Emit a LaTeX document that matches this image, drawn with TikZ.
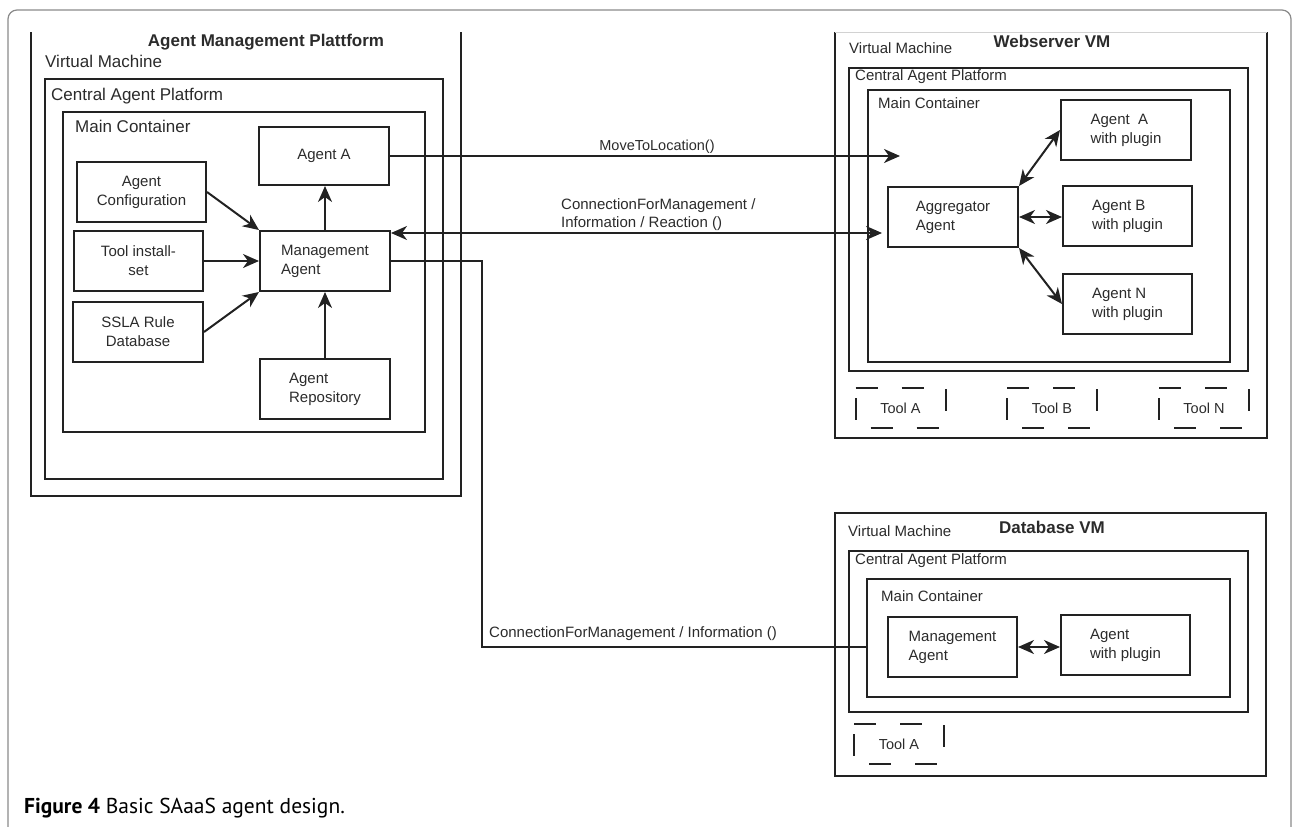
\documentclass[tikz,border=0pt]{standalone}
\usepackage{fontspec}
\setmainfont{Liberation Sans}
\newfontfamily\capfont{PT Sans}
\usetikzlibrary{arrows.meta,calc}
\definecolor{lc}{HTML}{222222}
\definecolor{tc}{HTML}{2B2B2B}
\definecolor{fc}{HTML}{8A8A8A}
\newcommand{\tooldashes}[1]{%
  \draw[tooldash] ($(#1)+(-45,-20)$) -- ++(22,0) ($(#1)+(1,-20)$) -- ++(22,0)
    ($(#1)+(45,-19)$) -- ++(0,22) ($(#1)+(-30,20)$) -- ++(22,0)
    ($(#1)+(16,20)$) -- ++(22,0) ($(#1)+(-45,-10)$) -- ++(0,22);}
\begin{document}
\begin{tikzpicture}[x=1pt,y=-1pt,
  box/.style={draw=lc, line width=2pt, inner sep=0pt, text=tc, font=\fontsize{15}{19}\selectfont},
  cbox/.style={draw=lc, line width=2pt, inner sep=0pt},
  lbl/.style={anchor=west, inner sep=0pt, text=tc, font=\fontsize{15}{18}\selectfont},
  lblL/.style={anchor=west, inner sep=0pt, text=tc, font=\fontsize{17}{20}\selectfont},
  ttl/.style={inner sep=0pt, text=tc, font=\bfseries\fontsize{17}{20}\selectfont},
  tiptext/.style={inner sep=0pt, text=tc, font=\fontsize{14.5}{18}\selectfont},
  arr/.style={draw=lc, line width=2pt, -{Stealth[length=16pt,width=14pt,inset=5pt]}},
  darr/.style={draw=lc, line width=2pt, {Stealth[length=16pt,width=14pt,inset=5pt]}-{Stealth[length=16pt,width=14pt,inset=5pt]}},
  conn/.style={draw=lc, line width=2pt},
  tooldash/.style={draw=lc, line width=2pt}
]
\useasboundingbox (0,0) rectangle (1294,827);
% page frame
\draw[fc, line width=1.2pt, rounded corners=9pt] (8,827) -- (8,10) -- (1291,10) -- (1291,827);

% ===== Left: Agent Management Plattform =====
\draw[conn] (31,32) -- (31,496) -- (461,496) -- (461,32);
\node[ttl] (lttl) at (266,42) {Agent Management Plattform};
\node[lblL] (lvm) at (45,61) {Virtual Machine};
\node[cbox, minimum width=398, minimum height=400] (lcap) at (244,279) {};
\node[lblL] (lcapl) at (51,96) {Central Agent Platform};
\node[cbox, minimum width=362, minimum height=320] (lmc) at (244,272) {};
\node[lblL] (lmcl) at (75,126) {Main Container};

\node[box, minimum width=130, minimum height=58] (aA) at (324,156) {Agent A};
\node[box, minimum width=129, minimum height=60, align=center] (ac) at (141.5,192) {Agent\\Configuration};
\node[box, minimum width=129, minimum height=60, align=center] (ti) at (138.5,261) {Tool install-\\set};
\node[box, minimum width=130, minimum height=60, align=center] (ss) at (138,332) {SSLA Rule\\Database};
\node[box, minimum width=130, minimum height=60, align=left] (ma) at (325,261) {Management\\Agent};
\node[box, minimum width=130, minimum height=60, align=left] (ar) at (325,389) {Agent\\Repository};

\draw[arr] (ac.east) -- (ma.north west);
\draw[arr] (ti.east) -- (ti.east -| ma.west);
\draw[arr] (ss.east) -- (ma.south west);
\draw[arr] (ar.north) -- (ar.north |- ma.south);
\draw[arr] (ma.north) -- (ma.north |- aA.south);

% ===== Webserver VM =====
\draw[conn] (835,32) -- (835,438) -- (1267,438) -- (1267,32);
\draw[gray!35, line width=0.8pt] (835,32) -- (1267,32);
\node[ttl] (wttl) at (1052,41) {Webserver VM};
\node[lbl] (wvm) at (849,48) {Virtual Machine};
\node[cbox, minimum width=399, minimum height=303] (wcap) at (1048.5,219.5) {};
\node[lbl] (wcapl) at (855,77) {Central Agent Platform};
\node[cbox, minimum width=362, minimum height=272] (wmc) at (1049,226) {};
\node[lbl] (wmcl) at (878,103) {Main Container};

\node[box, minimum width=130, minimum height=60, align=left] (wA) at (1126,130) {Agent\ \ A\\with plugin};
\node[box, minimum width=129, minimum height=60, align=left] (wB) at (1127.5,216) {Agent B\\with plugin};
\node[box, minimum width=129, minimum height=60, align=left] (wN) at (1127.5,304) {Agent N\\with plugin};
\node[box, minimum width=130, minimum height=60, align=left] (agg) at (953,217) {Aggregator\\Agent};

\draw[darr] (agg.north east) -- (wA.west);
\draw[darr] (agg.east) -- (agg.east -| wB.west);
\draw[darr] (agg.south east) -- (wN.west);

\node[tiptext] (wtA) at (900.5,408) {Tool A};
\node[tiptext] (wtB) at (1052,408) {Tool B};
\node[tiptext] (wtN) at (1204,408) {Tool N};
\tooldashes{wtA}
\tooldashes{wtB}
\tooldashes{wtN}

% ===== Database VM =====
\node[cbox, minimum width=431, minimum height=263] (dbvm) at (1050.5,644.5) {};
\node[ttl] (dttl) at (1052,527) {Database VM};
\node[lbl] (dvm) at (848,531) {Virtual Machine};
\node[cbox, minimum width=399, minimum height=161] (dbcap) at (1048.5,631.5) {};
\node[lbl] (dcapl) at (855,561) {Central Agent Platform};
\node[cbox, minimum width=363, minimum height=118] (dbmc) at (1048.5,638) {};
\node[lbl] (dmcl) at (881,596) {Main Container};
\node[box, minimum width=129, minimum height=60, align=left] (dbma) at (952.5,647) {Management\\Agent};
\node[box, minimum width=129, minimum height=60, align=left] (dbag) at (1125.5,645) {Agent\\with plugin};
\draw[darr] (dbma.east) -- (dbma.east -| dbag.west);
\node[tiptext] (dtA) at (899,744) {Tool A};
\tooldashes{dtA}

% ===== Connectors between platforms =====
\coordinate (mtl) at (900,156);
\draw[arr] (aA.east) -- (mtl);
\node[tiptext] (mtll) at (657,147) {MoveToLocation()};

\coordinate (c1) at ($(ma.north east)+(0,3)$);
\draw[darr, shorten >=5pt] (c1) -- (c1 -| agg.west);
\node[lbl, align=left] (c1l) at (561,214.5) {ConnectionForManagement /\\Information / Reaction ()};

\coordinate (k1) at (482,647);
\draw[conn] (ma.east) -| (k1) -- (dbmc.west |- k1);
\node[lbl] (c2l) at (489,634) {ConnectionForManagement / Information ()};

% caption
\node[anchor=base west, inner sep=0pt, font=\capfont\fontsize{21.5}{24}\selectfont] (cap) at (24,813) {\textbf{Figure 4} Basic SAaaS agent design.};
\end{tikzpicture}
\end{document}
